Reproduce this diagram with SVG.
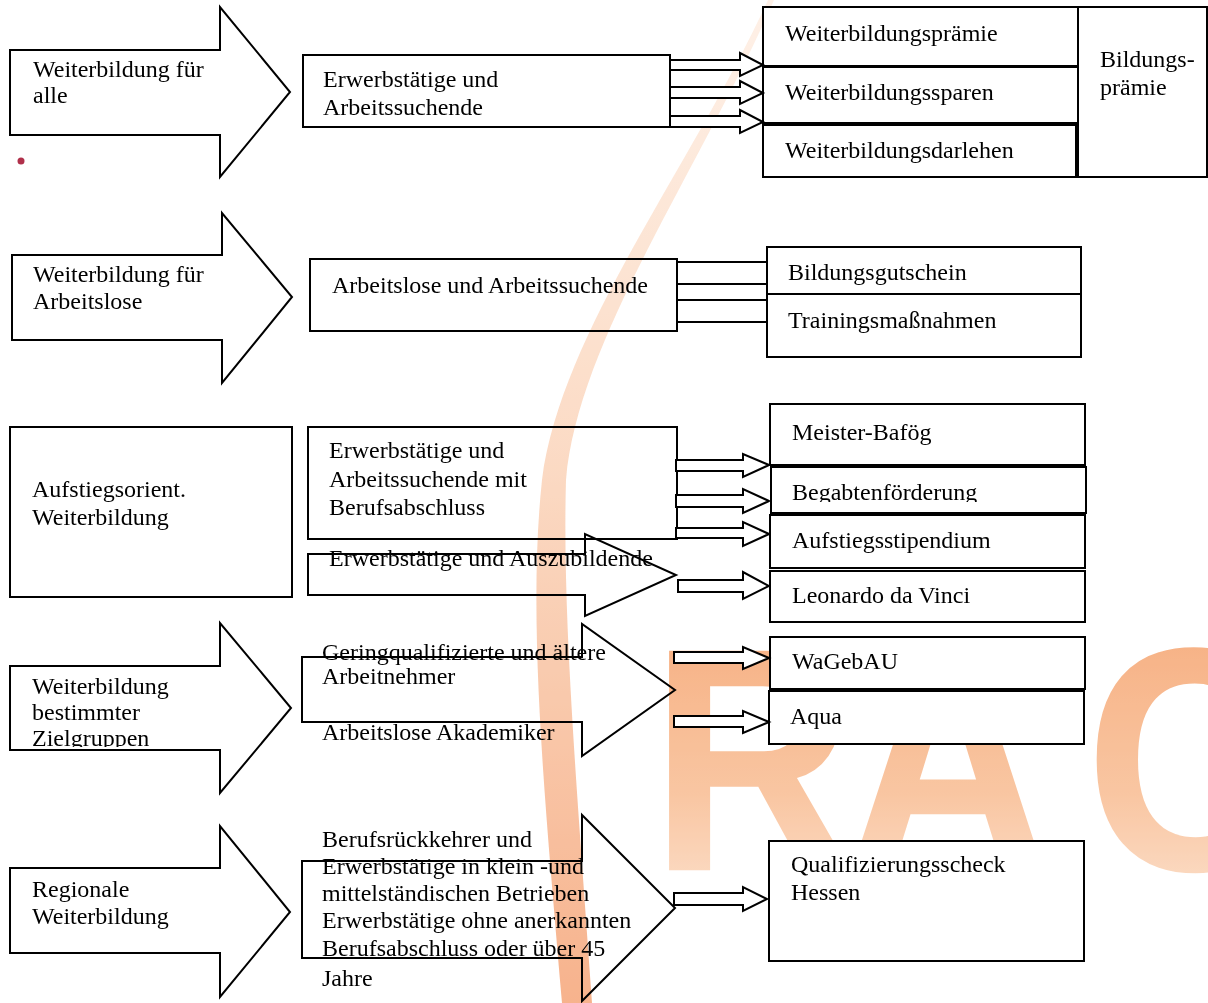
<svg xmlns="http://www.w3.org/2000/svg" width="1208" height="1003" viewBox="0 0 1208 1003">
<defs>
<linearGradient id="wmGrad" x1="0" y1="0" x2="0" y2="1">
<stop offset="0" stop-color="#f28a48"/>
<stop offset="0.6" stop-color="#f7b07e"/>
<stop offset="1" stop-color="#fcdcc4"/>
</linearGradient>
<linearGradient id="bandGrad" gradientUnits="userSpaceOnUse" x1="0" y1="0" x2="0" y2="1003">
<stop offset="0" stop-color="#fde6d6"/>
<stop offset="0.45" stop-color="#f8c09a"/>
<stop offset="1" stop-color="#f07a38"/>
</linearGradient>
<clipPath id="clipBeg"><rect x="770" y="467" width="316" height="35"/></clipPath>
<clipPath id="clipZiel"><rect x="10" y="600" width="220" height="147"/></clipPath>
</defs>
<style>
.s{fill:none;stroke:#000;stroke-width:2;stroke-linejoin:miter}
.w{fill:#fff;stroke:#000;stroke-width:2}
.c{fill:#fff;stroke:#000;stroke-width:2;stroke-linejoin:miter}
.t{font-family:"Liberation Serif","Times New Roman",serif;font-size:24px;fill:#000}
</style>
<rect width="1208" height="1003" fill="#fff"/>
<g id="watermark" opacity="0.72">
<path d="M768,0 C690,170 562,330 542,480 C527,620 545,800 562,1003 L592,1003 C578,800 562,620 566,480 C578,340 700,170 774,0 Z" fill="url(#bandGrad)" opacity="0.8"/>
<text x="650 845 1085" y="777" transform="scale(1,1.12)" font-family="Liberation Sans, Arial, sans-serif" font-weight="bold" font-size="285" fill="url(#wmGrad)">RAC</text>
</g>
<circle cx="21" cy="161" r="3.5" fill="#b0304a"/>

<g id="n1-arrow">
<polygon class="s" points="10,50 220,50 220,7 290,92 220,177 220,135 10,135"/>
<text class="t" x="33" y="77">Weiterbildung für</text>
<text class="t" x="33" y="103">alle</text>
</g>
<g id="n1-box">
<rect class="s" x="303" y="55" width="367" height="72"/>
<text class="t" x="323" y="87">Erwerbstätige und</text>
<text class="t" x="323" y="115">Arbeitssuchende</text>
</g>
<g id="n1-praemie">
<rect class="w" x="763" y="7" width="315" height="59"/>
<text class="t" x="785" y="41">Weiterbildungsprämie</text>
</g>
<g id="n1-sparen">
<rect class="w" x="763" y="67" width="315" height="56"/>
<text class="t" x="785" y="100">Weiterbildungssparen</text>
</g>
<g id="n1-darlehen">
<rect class="w" x="763" y="125" width="313" height="52"/>
<text class="t" x="785" y="158">Weiterbildungsdarlehen</text>
</g>
<g id="n1-bildungspraemie">
<rect class="w" x="1078" y="7" width="129" height="170"/>
<text class="t" x="1100" y="67">Bildungs-</text>
<text class="t" x="1100" y="95">prämie</text>
</g>

<g id="n2-arrow">
<polygon class="s" points="12,255 222,255 222,213 292,297 222,383 222,340 12,340"/>
<text class="t" x="33" y="282">Weiterbildung für</text>
<text class="t" x="33" y="309">Arbeitslose</text>
</g>
<g id="n2-box">
<rect class="s" x="310" y="259" width="367" height="72"/>
<text class="t" x="332" y="293">Arbeitslose und Arbeitssuchende</text>
</g>
<g id="n2-gutschein">
<rect class="w" x="767" y="247" width="314" height="47"/>
<text class="t" x="788" y="280">Bildungsgutschein</text>
</g>
<g id="n2-training">
<rect class="w" x="767" y="294" width="314" height="63"/>
<text class="t" x="788" y="328">Trainingsmaßnahmen</text>
</g>

<g id="n3-left">
<rect class="s" x="10" y="427" width="282" height="170"/>
<text class="t" x="32" y="497">Aufstiegsorient.</text>
<text class="t" x="32" y="525">Weiterbildung</text>
</g>
<g id="n3-box">
<rect class="s" x="308" y="427" width="369" height="112"/>
<text class="t" x="329" y="458">Erwerbstätige und</text>
<text class="t" x="329" y="487">Arbeitssuchende mit</text>
<text class="t" x="329" y="515">Berufsabschluss</text>
</g>
<g id="n3-arrow">
<polygon class="s" points="308,554 585,554 585,534 676,575 585,616 585,595 308,595"/>
<text class="t" x="329" y="566">Erwerbstätige und Auszubildende</text>
</g>
<g id="n3-meister">
<rect class="w" x="770" y="404" width="315" height="61"/>
<text class="t" x="792" y="440">Meister-Bafög</text>
</g>
<g id="n3-begabten">
<rect class="w" x="771" y="467" width="315" height="46"/>
<text class="t" x="792" y="500" clip-path="url(#clipBeg)">Begabtenförderung</text>
</g>
<g id="n3-aufstieg">
<rect class="w" x="770" y="515" width="315" height="53"/>
<text class="t" x="792" y="548">Aufstiegsstipendium</text>
</g>
<g id="n3-leonardo">
<rect class="w" x="770" y="571" width="315" height="51"/>
<text class="t" x="792" y="603">Leonardo da Vinci</text>
</g>

<g id="n4-arrow">
<polygon class="s" points="10,666 220,666 220,623 291,708 220,793 220,750 10,750"/>
<text class="t" x="32" y="694">Weiterbildung</text>
<text class="t" x="32" y="720">bestimmter</text>
<text class="t" x="32" y="746" clip-path="url(#clipZiel)">Zielgruppen</text>
</g>
<g id="n4-bigarrow">
<polygon class="s" points="302,657 582,657 582,624 675,690 582,756 582,722 302,722"/>
<text class="t" x="322" y="660">Geringqualifizierte und ältere</text>
<text class="t" x="322" y="684">Arbeitnehmer</text>
<text class="t" x="322" y="740">Arbeitslose Akademiker</text>
</g>
<g id="n4-wagebau">
<rect class="w" x="770" y="637" width="315" height="52"/>
<text class="t" x="792" y="669">WaGebAU</text>
</g>
<g id="n4-aqua">
<rect class="w" x="769" y="691" width="315" height="53"/>
<text class="t" x="790" y="724">Aqua</text>
</g>

<g id="n5-arrow">
<polygon class="s" points="10,868 220,868 220,826 290,912 220,997 220,953 10,953"/>
<text class="t" x="32" y="897">Regionale</text>
<text class="t" x="32" y="924">Weiterbildung</text>
</g>
<g id="n5-bigarrow">
<polygon class="s" points="302,861 582,861 582,815 675,908 582,1001 582,958 302,958"/>
<text class="t" x="322" y="847">Berufsrückkehrer und</text>
<text class="t" x="322" y="874">Erwerbstätige in klein -und</text>
<text class="t" x="322" y="901">mittelständischen Betrieben</text>
<text class="t" x="322" y="928">Erwerbstätige ohne anerkannten</text>
<text class="t" x="322" y="956">Berufsabschluss oder über 45</text>
<text class="t" x="322" y="986">Jahre</text>
</g>
<g id="n5-hessen">
<rect class="w" x="769" y="841" width="315" height="120"/>
<text class="t" x="791" y="872">Qualifizierungsscheck</text>
<text class="t" x="791" y="900">Hessen</text>
</g>

<g id="connectors">
<polygon class="c" points="670,60 740,60 740,53 763,65 740,76 740,70 670,70"/>
<polygon class="c" points="670,87 740,87 740,81 763,93 740,104 740,98 670,98"/>
<polygon class="c" points="670,116 740,116 740,110 763,122 740,133 740,127 670,127"/>
<path class="s" d="M677,262 H767 M677,284 H767 M677,300 H767 M677,322 H767"/>
<polygon class="c" points="676,460 743,460 743,454 769,465 743,477 743,471 676,471"/>
<polygon class="c" points="676,495 743,495 743,489 769,501 743,513 743,507 676,507"/>
<polygon class="c" points="676,528 743,528 743,522 769,534 743,546 743,538 676,538"/>
<polygon class="c" points="678,580 743,580 743,572 769,586 743,599 743,592 678,592"/>
<polygon class="c" points="674,652 743,652 743,647 769,658 743,669 743,663 674,663"/>
<polygon class="c" points="674,716 743,716 743,711 769,722 743,733 743,727 674,727"/>
<polygon class="c" points="674,893 743,893 743,887 767,899 743,911 743,905 674,905"/>
</g>
</svg>
